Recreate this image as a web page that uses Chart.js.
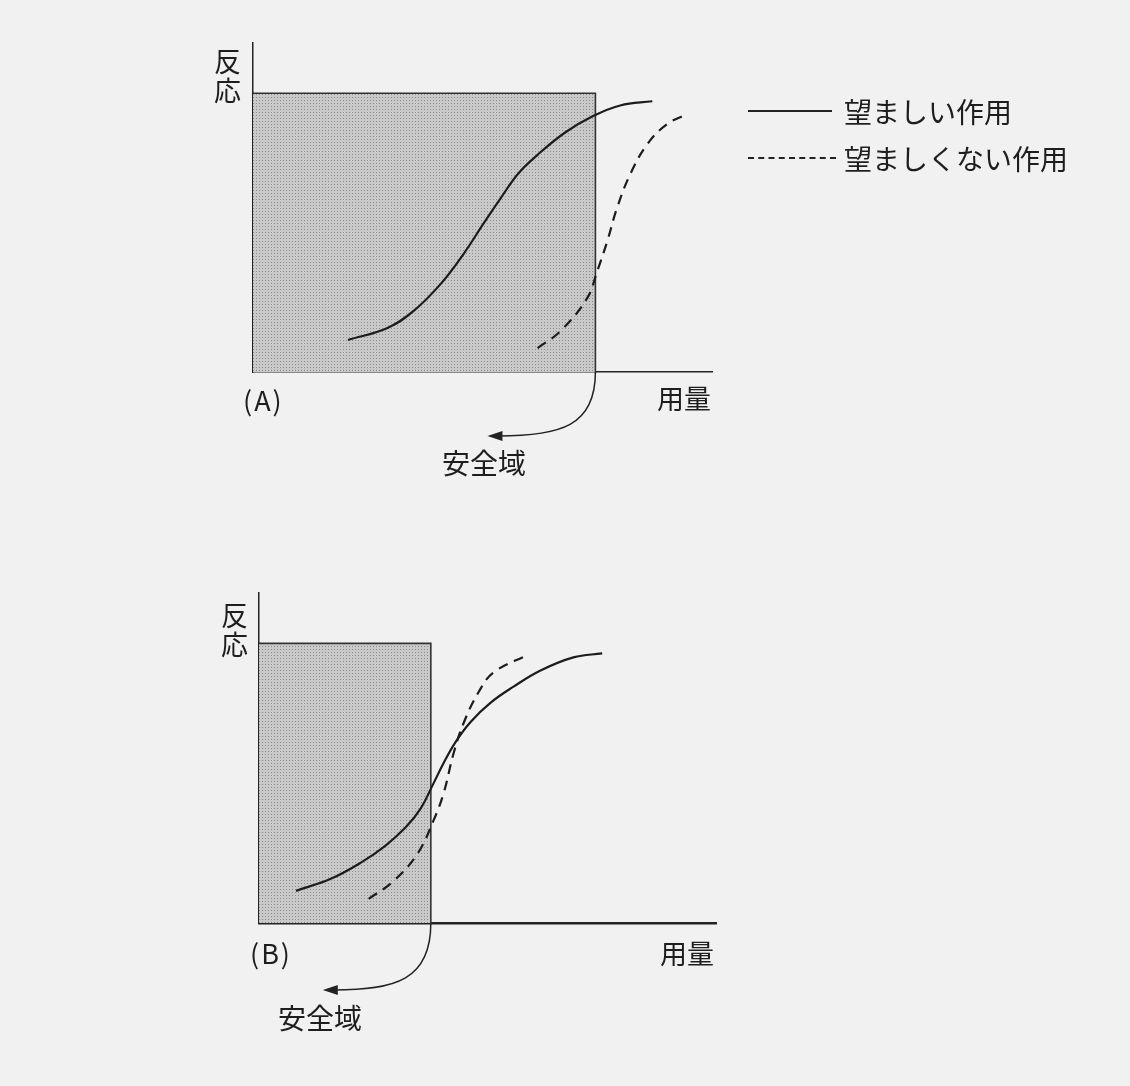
<!DOCTYPE html>
<html lang="ja">
<head>
<meta charset="UTF-8">
<title>安全域</title>
<script src="https://cdn.jsdelivr.net/npm/chart.js"></script>
<style>
  body {
    margin: 0;
    width: 1130px;
    height: 1086px;
    background: #f1f1f1;
    font-family: "Noto Sans CJK JP", sans-serif;
    color: #1e1e1e;
    position: relative;
    overflow: hidden;
  }
  canvas { position: absolute; left: 0; }
  .lbl { position: absolute; font-size: 27px; line-height: 29px; white-space: nowrap; }
  .legend { position: absolute; left: 748px; font-size: 28px; display: flex; align-items: center; }
  .legend span.ln { display: inline-block; width: 84px; margin-right: 12px; }
</style>
</head>
<body>

<canvas id="chartA" width="1130" height="540" style="top:0"></canvas>
<canvas id="chartB" width="1130" height="546" style="top:540px"></canvas>

<div class="lbl" style="left:214px; top:46px;">反<br>応</div>
<div class="lbl" style="left:243px; top:385px; letter-spacing:2px;">(A)</div>
<div class="lbl" style="left:657px; top:383px;">用量</div>
<div class="lbl" style="left:442px; top:448px; font-size:28px;">安全域</div>

<div class="lbl" style="left:221px; top:600px;">反<br>応</div>
<div class="lbl" style="left:250px; top:938px; letter-spacing:2px;">(B)</div>
<div class="lbl" style="left:660px; top:938px;">用量</div>
<div class="lbl" style="left:278px; top:1003px; font-size:28px;">安全域</div>

<div class="legend" style="top:91px;"><span class="ln" style="border-top:2px solid #222;"></span>望ましい作用</div>
<div class="legend" style="top:138px;"><span class="ln" style="border-top:2px dashed #222; width:88px; margin-right:8px;"></span>望ましくない作用</div>

<script>
// (A) 用量 / 反応
const doseA_good = [20.7, 29.3, 35.0, 40.9, 45.9, 50.2, 53.9, 57.8, 62.0, 68.0, 74.1, 80.0, 87.0];
const respA_good = [11.5, 15.8, 21.9, 31.6, 42.4, 53.2, 62.2, 71.2, 77.9, 85.9, 91.8, 95.6, 97.1];
const doseA_bad  = [62.0, 67.0, 72.8, 75.0, 77.2, 79.3, 82.2, 85.9, 90.2, 94.6];
const respA_bad  = [8.6, 14.7, 26.5, 36.2, 47.0, 58.8, 71.0, 81.7, 88.9, 92.5];
const safeDoseA = 74.6;

// (B)
const doseB_good = [8.1, 15.7, 22.3, 27.7, 32.1, 35.4, 38.0, 40.4, 43.0, 46.3, 50.7, 55.7, 61.6, 68.8, 75.1];
const respB_good = [11.5, 15.8, 21.6, 27.7, 34.2, 41.0, 49.3, 57.2, 64.7, 71.9, 78.8, 84.5, 90.3, 95.0, 96.4];
const doseB_bad  = [24.0, 29.5, 34.7, 38.2, 40.4, 42.6, 44.8, 48.0, 51.3, 59.0];
const respB_bad  = [8.6, 15.1, 24.8, 36.7, 46.4, 60.8, 71.6, 82.4, 89.6, 96.0];
const safeDoseB = 37.6;

const maxResp = 100;

function pts(xs, ys) { return xs.map((x, i) => ({ x: x, y: ys[i] })); }

function stipple() {
  const c = document.createElement('canvas');
  c.width = 3; c.height = 3;
  const g = c.getContext('2d');
  g.fillStyle = '#c9c9c9';
  g.fillRect(0, 0, 3, 3);
  g.fillStyle = '#8c8c8c';
  g.fillRect(1, 1, 1, 1);
  return g.createPattern(c, 'repeat');
}

// curved arrow from the safety-box corner down to the label
const arrowPlugin = {
  id: 'arrow',
  afterDraw(chart, args, opts) {
    const ctx = chart.ctx;
    const sx = chart.scales.x.getPixelForValue(opts.dose);
    const sy = chart.scales.y.getPixelForValue(0);
    const ex = sx - 108, ey = sy + opts.drop;
    ctx.save();
    ctx.strokeStyle = '#222';
    ctx.lineWidth = 1.5;
    ctx.beginPath();
    ctx.moveTo(sx, sy);
    ctx.bezierCurveTo(sx, sy + opts.drop * 0.85, sx - 35, ey, ex + 10, ey);
    ctx.stroke();
    ctx.fillStyle = '#222';
    ctx.beginPath();
    ctx.moveTo(ex, ey);
    ctx.lineTo(ex + 15, ey - 5);
    ctx.lineTo(ex + 15, ey + 5);
    ctx.closePath();
    ctx.fill();
    ctx.restore();
  }
};

function makeChart(id, good, bad, safeDose, pad, drop, axisW) {
  return new Chart(document.getElementById(id), {
    type: 'line',
    data: {
      datasets: [
        {
          label: '望ましい作用',
          data: good,
          borderColor: '#1c1c1c',
          borderWidth: 2.2,
          pointRadius: 0,
          tension: 0.4,
          fill: false,
          order: 1
        },
        {
          label: '望ましくない作用',
          data: bad,
          borderColor: '#1c1c1c',
          borderWidth: 2.2,
          borderDash: [10, 7],
          pointRadius: 0,
          tension: 0.4,
          fill: false,
          order: 2
        },
        {
          label: '安全域',
          data: [{ x: 0, y: maxResp }, { x: safeDose, y: maxResp }, { x: safeDose, y: 0 }],
          borderColor: '#333',
          borderWidth: 1.6,
          backgroundColor: stipple(),
          pointRadius: 0,
          tension: 0,
          fill: 'origin',
          order: 3
        }
      ]
    },
    options: {
      responsive: false,
      animation: false,
      layout: { padding: pad },
      plugins: {
        legend: { display: false },
        tooltip: { enabled: false },
        arrow: { dose: safeDose, drop: drop }
      },
      scales: {
        x: {
          type: 'linear', min: 0, max: 100, z: 1,
          ticks: { display: false },
          grid: { display: false },
          border: { color: '#222', width: axisW }
        },
        y: {
          type: 'linear', min: 0, max: 118, z: 1,
          ticks: { display: false },
          grid: { display: false },
          border: { color: '#222', width: 1.5 }
        }
      }
    },
    plugins: [arrowPlugin]
  });
}

makeChart('chartA', pts(doseA_good, respA_good), pts(doseA_bad, respA_bad), safeDoseA,
  { left: 245, top: 43, right: 418, bottom: 160 }, 64, 1.5);
makeChart('chartB', pts(doseB_good, respB_good), pts(doseB_bad, respB_bad), safeDoseB,
  { left: 251, top: 53, right: 414, bottom: 155 }, 67, 2.5);
</script>
</body>
</html>
